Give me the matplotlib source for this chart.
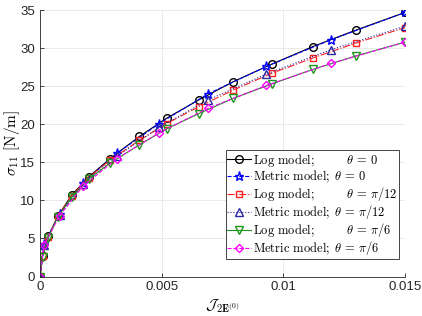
import matplotlib
matplotlib.use('Agg')
import matplotlib.pyplot as plt

plt.rcParams['mathtext.fontset'] = 'cm'
plt.rcParams['font.family'] = ['Liberation Sans', 'DejaVu Sans']

# strain values (log model runs and metric model runs use different steps)
x_log = [0, 0.0001, 0.00034, 0.00072, 0.0013, 0.002, 0.00288, 0.00408, 0.0052,
         0.00652, 0.00794, 0.00952, 0.0112, 0.013, 0.015]
x_metric = [0, 0.00016, 0.0008, 0.00177, 0.00316, 0.0049, 0.0069, 0.0093, 0.01195, 0.015]

log_th0 = [0, 2.7, 5.3, 7.9, 10.7, 13.1, 15.5, 18.4, 20.8, 23.2, 25.6, 27.9, 30.2, 32.4, 34.7]
log_th12 = [0, 2.7, 5.2, 7.9, 10.6, 13.0, 15.3, 17.9, 20.1, 22.3, 24.5, 26.7, 28.7, 30.7, 32.7]
log_th6 = [0, 2.6, 5.1, 7.8, 10.4, 12.8, 14.9, 17.3, 19.4, 21.4, 23.4, 25.3, 27.2, 29.0, 30.8]

met_th0 = [0, 4.3, 8.2, 12.3, 16.2, 20.1, 24.0, 27.6, 31.1, 34.7]
met_th12 = [0, 4.2, 8.1, 12.1, 15.8, 19.6, 23.2, 26.6, 29.8, 32.9]
met_th6 = [0, 4.1, 8.0, 11.9, 15.5, 18.9, 22.1, 25.1, 28.0, 30.8]

labels = [r'Log model;$\qquad\ \ \ \theta\,=\,0$',
          r'Metric model;$\ \,\theta\,=\,0$',
          r'Log model;$\qquad\ \ \ \theta\,=\,\pi/12$',
          r'Metric model;$\ \,\theta\,=\,\pi/12$',
          r'Log model;$\qquad\ \ \ \theta\,=\,\pi/6$',
          r'Metric model;$\ \,\theta\,=\,\pi/6$']

fig = plt.figure(figsize=(4.22, 3.16), dpi=100)
ax = fig.add_axes([0.095, 0.125, 0.865, 0.843])

lw = 0.8
ms = 5
ax.plot(x_log, log_th0, '-', color='black', marker='o', mfc='none', ms=ms + 0.5, lw=lw, label=labels[0])
ax.plot(x_metric, met_th0, '--', color='#0000ff', marker='*', mfc='none', ms=ms + 1.5, lw=lw, label=labels[1])
ax.plot(x_log, log_th12, '-.', color='#ff2020', marker='s', mfc='none', ms=ms - 0.5, lw=lw, label=labels[2])
ax.plot(x_metric, met_th12, ':', color='#2a2aa0', marker='^', mfc='none', ms=ms + 1, lw=lw, label=labels[3])
ax.plot(x_log, log_th6, '-', color='#1e961e', marker='v', mfc='none', ms=ms + 1, lw=lw, label=labels[4])
ax.plot(x_metric, met_th6, '--', color='#ff00ff', marker='D', mfc='none', ms=ms - 0.5, lw=lw, label=labels[5])

ax.set_xlim(0, 0.015)
ax.set_ylim(0, 35)
ax.set_xticks([0, 0.005, 0.01, 0.015])
ax.set_xticklabels(['0', '0.005', '0.01', '0.015'])
ax.set_yticks(range(0, 36, 5))
ax.tick_params(labelsize=9.5, length=3, width=0.6, colors='#262626', direction='in')
ax.grid(True, color='#e6e6e6', lw=0.6)
ax.set_axisbelow(True)
for s in ['top', 'right']:
    ax.spines[s].set_visible(False)
for s in ['left', 'bottom']:
    ax.spines[s].set_color('#262626')
    ax.spines[s].set_linewidth(0.6)

ax.set_xlabel(r'$\mathcal{J}_{2\mathbf{E}^{(0)}}$', fontsize=11, labelpad=3)
ax.set_ylabel(r'$\sigma_{11}$ [N/m]', fontsize=11, family='cmr10', labelpad=-1)

leg = ax.legend(loc='lower right', bbox_to_anchor=(0.984, 0.066), prop={'family': 'cmr10', 'size': 9.0},
                fancybox=False, edgecolor='#262626', framealpha=1, handlelength=1.9,
                handletextpad=0.15, borderpad=0.15, labelspacing=0.0, borderaxespad=0)
leg.get_frame().set_linewidth(0.6)

fig.savefig('out.png', dpi=100)
